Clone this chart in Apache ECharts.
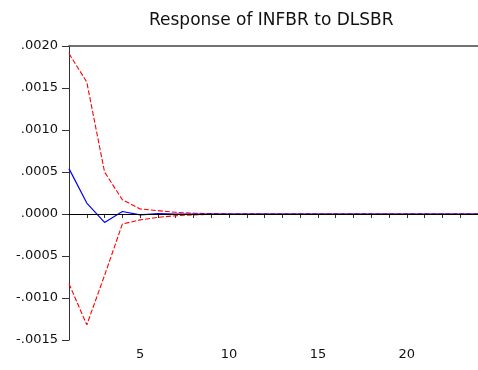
<!DOCTYPE html>
<html><head><meta charset="utf-8">
<script src="https://cdn.jsdelivr.net/npm/echarts@6/dist/echarts.min.js"></script>
<style>html,body{margin:0;padding:0;background:#fff;overflow:hidden}#c{width:481px;height:370px}</style>
</head><body><div id="c"></div>
<script>
var periods = [1,2,3,4,5,6,7,8,9,10,11,12,13,14,15,16,17,18,19,20,21,22,23,24];
var response = [0.00054,0.00013,-0.00010,0.00003,-0.00001,0.000005,0,0,0,0,0,0,0,0,0,0,0,0,0,0,0,0,0,0];
var upperBand = [0.00191,0.00157,0.00050,0.00017,0.00006,0.00004,0.00002,0.00001,0.000005,0,0,0,0,0,0,0,0,0,0,0,0,0,0,0];
var lowerBand = [-0.00083,-0.00132,-0.00073,-0.00012,-0.00007,-0.00004,-0.00002,-0.00001,-0.000005,0,0,0,0,0,0,0,0,0,0,0,0,0,0,0];
var titleText = 'Response of INFBR to DLSBR';

function pairs(arr){ return periods.map(function(p,i){ return [p, arr[i]]; }); }
var chart = echarts.init(document.getElementById('c'));
var font = 'DejaVu Sans, Verdana, sans-serif';
chart.setOption({
  animation:false,
  title:{text:titleText,left:144,top:7,textStyle:{fontFamily:font,fontSize:17,fontWeight:'normal',color:'#111'}},
  grid:{left:69,right:0,top:46,bottom:30,show:false},
  xAxis:[{type:'value',min:1,max:24,interval:1,position:'bottom',
    axisLine:{lineStyle:{color:'#333',width:1}},
    axisTick:{show:true,length:4,lineStyle:{color:'#333'}},
    splitLine:{show:false},
    axisLabel:{fontFamily:font,fontSize:13,color:'#111',margin:8,
      formatter:function(v){return (Math.round(v)%5===0)?String(Math.round(v)):'';}}},
    {type:'value',min:1,max:24,position:'top',
    axisLine:{show:true,lineStyle:{color:'#444',width:1.5}},
    axisTick:{show:false},axisLabel:{show:false},splitLine:{show:false}}],
  yAxis:{type:'value',min:-0.0015,max:0.0020,interval:0.0005,
    axisLine:{show:true,lineStyle:{color:'#333',width:1}},
    axisTick:{show:true,length:7,lineStyle:{color:'#333'}},
    splitLine:{show:false},
    axisLabel:{fontFamily:font,fontSize:13,color:'#111',margin:11,
      formatter:function(v){var s=Math.abs(v).toFixed(4).replace(/^0/,'');return (v< -1e-9?'-':'')+s;}}},
  series:[
    {type:'line',data:pairs(upperBand),symbol:'none',lineStyle:{color:'#ff0000',width:1.1,type:[5,2]},z:3},
    {type:'line',data:pairs(lowerBand),symbol:'none',lineStyle:{color:'#ff0000',width:1.1,type:[5,2]},z:3},
    {type:'line',data:pairs(response),symbol:'none',lineStyle:{color:'#0000ff',width:1.2},z:4,
     markLine:{silent:true,symbol:'none',label:{show:false},lineStyle:{color:'#000',width:1,type:'solid'},data:[{yAxis:0}]}}
  ]
});
</script></body></html>
